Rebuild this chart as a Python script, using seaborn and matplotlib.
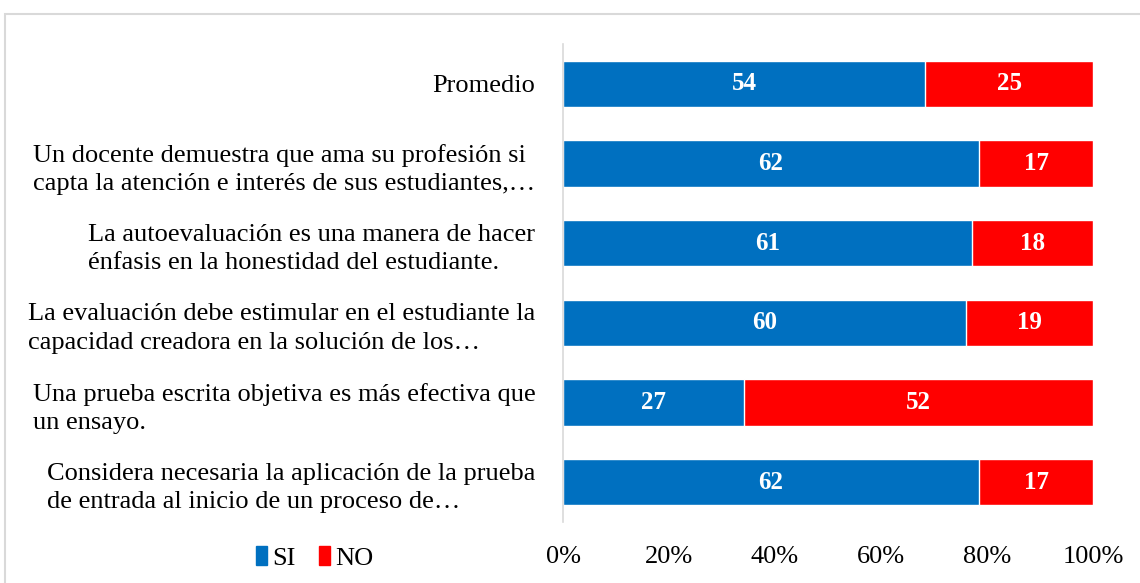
import pandas as pd
import numpy as np
import matplotlib.pyplot as plt
import seaborn as sns
from matplotlib.patches import Rectangle, Patch

# data
items = [
    "Promedio",
    "Un docente demuestra que ama su profesión si\ncapta la atención e interés de sus estudiantes,…",
    "La autoevaluación es una manera de hacer\nénfasis en la honestidad del estudiante.",
    "La evaluación debe estimular en el estudiante la\ncapacidad creadora en la solución de los…",
    "Una prueba escrita objetiva es más efectiva que\nun ensayo.",
    "Considera necesaria la aplicación de la prueba\nde entrada al inicio de un proceso de…",
]
si = [54, 62, 61, 60, 27, 62]
no = [25, 17, 18, 19, 52, 17]

df = pd.DataFrame({"item": items, "SI": si, "NO": no})
df["total"] = df["SI"] + df["NO"]
df["si_share"] = df["SI"] / df["total"]
df["all_share"] = 1.0

sns.set_style("white")
plt.rcParams["font.family"] = ["Liberation Serif", "DejaVu Serif"]
plt.rcParams["text.color"] = "black"
plt.rcParams["xtick.color"] = "black"
plt.rcParams["ytick.color"] = "black"

blue = "#0070c0"
red = "#ff0000"
fs = 19

fig = plt.figure(figsize=(11.4, 5.83), dpi=100)
ax = fig.add_axes([0.4939, 0.1046, 0.4649, 0.8199])

# stacked 100% bars: full red bar, blue SI share on top
sns.barplot(data=df, y="item", x="all_share", color=red, width=0.58,
            saturation=1, ax=ax)
sns.barplot(data=df, y="item", x="si_share", color=blue, width=0.58,
            saturation=1, ax=ax)

red_bars, blue_bars = ax.containers[0], ax.containers[1]
for rect, n in zip(blue_bars, df["SI"]):
    ax.text(rect.get_x() + rect.get_width() / 2, rect.get_y() + rect.get_height() / 2,
            str(n), ha="center", va="center", color="white",
            fontsize=18, fontweight="bold")
for rect, s, n in zip(red_bars, df["si_share"], df["NO"]):
    ax.text((s + 1) / 2, rect.get_y() + rect.get_height() / 2,
            str(n), ha="center", va="center", color="white",
            fontsize=18, fontweight="bold")

ax.set_xlim(0, 1)
ax.set_ylim(5.5, -0.5)
ax.set_xticks(np.linspace(0, 1, 6))
ax.set_xticklabels([f"{int(t*100)}%" for t in np.linspace(0, 1, 6)], fontsize=fs)
ax.tick_params(axis="x", length=0, pad=17)
ax.tick_params(axis="y", length=0, pad=20)
for lab in ax.get_yticklabels():
    lab.set_multialignment("left")
    lab.set_linespacing(1.4)
    lab.set_fontsize(fs)
ax.set_xlabel("")
ax.set_ylabel("")
for side in ["top", "right", "bottom"]:
    ax.spines[side].set_visible(False)
ax.spines["left"].set_color("#d9d9d9")
ax.spines["left"].set_linewidth(1.2)

handles = [Patch(color=blue, label="SI"), Patch(color=red, label="NO")]
fig.legend(handles=handles, loc="center", bbox_to_anchor=(0.276, 0.043), ncol=2,
           frameon=False, fontsize=fs, handlelength=0.4, handleheight=0.75,
           handletextpad=0.2, columnspacing=0.9)

# outer chart border
fig.patches.append(Rectangle((0.004, -0.05), 1.2, 1 - 0.024 + 0.05,
                             transform=fig.transFigure, fill=False,
                             edgecolor="#d9d9d9", linewidth=1.5))

fig.savefig("out.png", dpi=100)
